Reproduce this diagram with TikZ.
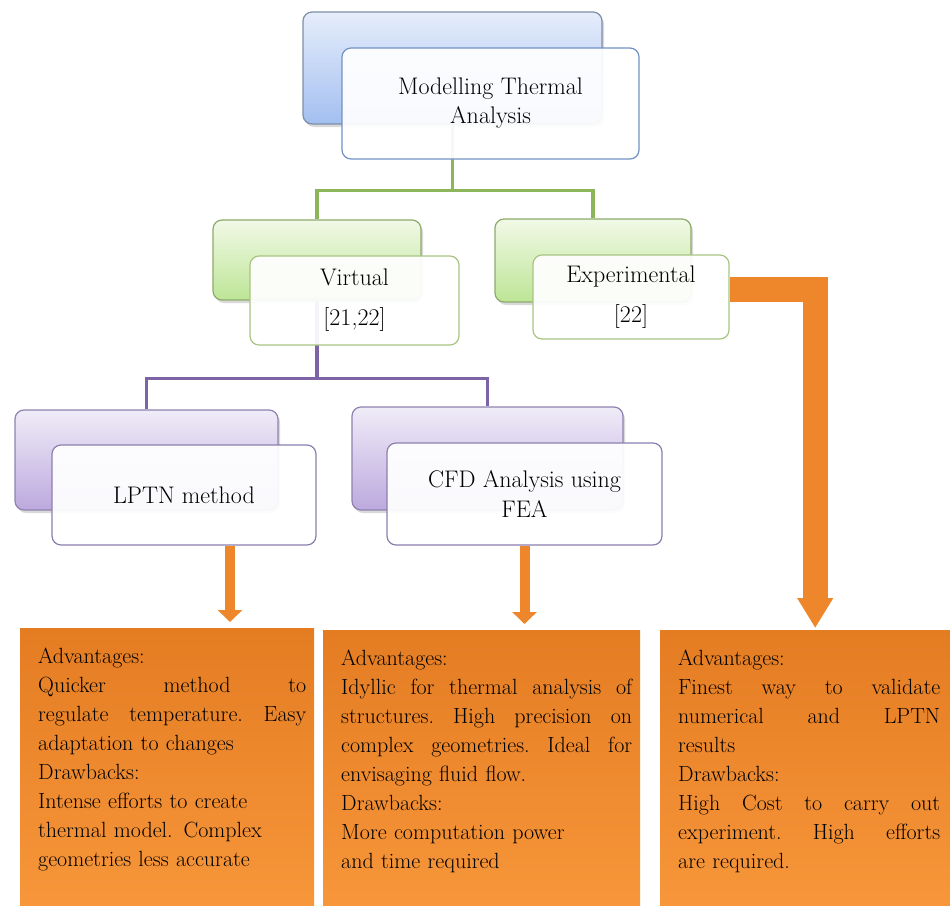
\documentclass[tikz,border=0pt]{standalone}
\usepackage{xcolor}
\usepackage{tikz}
\usetikzlibrary{arrows.meta,shadows}

\definecolor{bluetop}{HTML}{E6EDFB}
\definecolor{bluebot}{HTML}{A3BFF0}
\definecolor{blueedge}{HTML}{7D8FA8}
\definecolor{bluefront}{HTML}{7291C4}
\definecolor{greentop}{HTML}{F1F9E6}
\definecolor{greenbot}{HTML}{BDE596}
\definecolor{greenedge}{HTML}{8EAA6C}
\definecolor{greenfront}{HTML}{A9C482}
\definecolor{purpletop}{HTML}{F0ECF8}
\definecolor{purplebot}{HTML}{BCA9DE}
\definecolor{purpleedge}{HTML}{8F82AD}
\definecolor{purplefront}{HTML}{8C7FB0}
\definecolor{greenln}{HTML}{8DB65A}
\definecolor{purpleln}{HTML}{7C64A6}
\definecolor{restop}{HTML}{E47C22}
\definecolor{resbot}{HTML}{F7963A}
\definecolor{arrowmid}{HTML}{EE872B}

\newcommand\jline[2]{\leavevmode\hbox to #1{\spaceskip=.33em plus 1fil\relax\xspaceskip=\spaceskip #2}}

\begin{document}
\begin{tikzpicture}[x=1pt,y=-1pt,
  backbox/.style={rounded corners=9pt, line width=1.2pt, inner sep=0pt,
    drop shadow={shadow xshift=2pt,shadow yshift=-3pt,opacity=0.3}},
  frontbox/.style={rounded corners=9pt, line width=1.2pt, fill=white, fill opacity=0.93,
    text opacity=1, align=center, inner sep=0pt},
  linkgreen/.style={draw=greenln, line width=3.5pt},
  linkpurple/.style={draw=purpleln, line width=3.5pt},
  resultbox/.style={anchor=north west, top color=restop, bottom color=resbot, inner xsep=8pt,
    inner ysep=20pt, text width=#1, align=left, font=\fontsize{22}{29}\selectfont},
  thinarrow/.style={draw=arrowmid, line width=10pt, -{Triangle[width=24pt,length=12pt]}, shorten >=6pt},
  bigarrow/.style={draw=arrowmid, line width=25pt, line join=miter, -{Triangle[width=34pt,length=30pt]}, shorten >=2pt}
]
\useasboundingbox (0,0) rectangle (950,905);

\node[backbox, top color=bluetop, bottom color=bluebot, draw=blueedge, minimum width=299pt, minimum height=112pt] (mta) at (452.5,68) {};
\node[backbox, top color=greentop, bottom color=greenbot, draw=greenedge, minimum width=208pt, minimum height=80pt] (vb) at (317,260) {};
\node[backbox, top color=greentop, bottom color=greenbot, draw=greenedge, minimum width=196pt, minimum height=83pt] (eb) at (593,260.5) {};
\node[backbox, top color=purpletop, bottom color=purplebot, draw=purpleedge, minimum width=263pt, minimum height=100pt] (lb) at (146.5,460) {};
\node[backbox, top color=purpletop, bottom color=purplebot, draw=purpleedge, minimum width=271pt, minimum height=103pt] (cb) at (487.5,458.5) {};

\draw[linkgreen] (mta.south) -- ++(0,66) -| (vb.north);
\draw[linkgreen] (mta.south) -- ++(0,66) -| (eb.north);
\draw[linkpurple] (vb.south) -- ++(0,78) -| (lb.north);
\draw[linkpurple] (vb.south) -- ++(0,78) -| (cb.north);

\node[frontbox, draw=bluefront, minimum width=297pt, minimum height=111pt, font=\fontsize{24}{29}\selectfont] (model) at (490.5,103.5) {Modelling Thermal\\Analysis};
\node[frontbox, draw=greenfront, minimum width=209pt, minimum height=89pt, font=\fontsize{24}{40}\selectfont] (vf) at (354.5,300.5) {Virtual\\{[21,22]}};
\node[frontbox, draw=greenfront, minimum width=196pt, minimum height=84pt, font=\fontsize{24}{40}\selectfont] (ef) at (631,297) {Experimental\\{[22]}};
\node[frontbox, draw=purplefront, minimum width=264pt, minimum height=100pt, font=\fontsize{24}{29}\selectfont] (lf) at (184,495) {LPTN method};
\node[frontbox, draw=purplefront, minimum width=275pt, minimum height=102pt, font=\fontsize{24}{30}\selectfont] (cf) at (524.5,494) {CFD Analysis using\\FEA};

\node[resultbox=278pt] (lr) at (20,628) {\leftskip10pt Advantages:\\
  \jline{268pt}{Quicker method to}\\
  \jline{268pt}{regulate temperature. Easy}\\
  adaptation to changes\\
  Drawbacks:\\
  Intense efforts to create\\
  thermal model. Complex\\
  geometries less accurate\rule[-19pt]{0pt}{1pt}\par};
\node[resultbox=301pt] (mr) at (323,630) {\leftskip10pt Advantages:\\
  \jline{291pt}{Idyllic for thermal analysis of}\\
  \jline{291pt}{structures. High precision on}\\
  \jline{291pt}{complex geometries. Ideal for}\\
  envisaging fluid flow.\\
  Drawbacks:\\
  More computation power\\
  and time required\rule[-17pt]{0pt}{1pt}\par};
\node[resultbox=274pt] (rr) at (660,630) {\leftskip10pt Advantages:\\
  \jline{262pt}{Finest way to validate}\\
  \jline{262pt}{numerical and LPTN}\\
  results\\
  Drawbacks:\\
  \jline{262pt}{High Cost to carry out}\\
  \jline{262pt}{experiment. High efforts}\\
  are required.\rule[-17pt]{0pt}{1pt}\par};

\draw[thinarrow] (lf.south -| 230,0) -- (lr.north -| 230,0);
\draw[thinarrow] (cf.south) -- (mr.north -| cf.south);
\draw[bigarrow] ([yshift=7.5pt]ef.east) -| ([xshift=10pt]rr.north);
\end{tikzpicture}
\end{document}
